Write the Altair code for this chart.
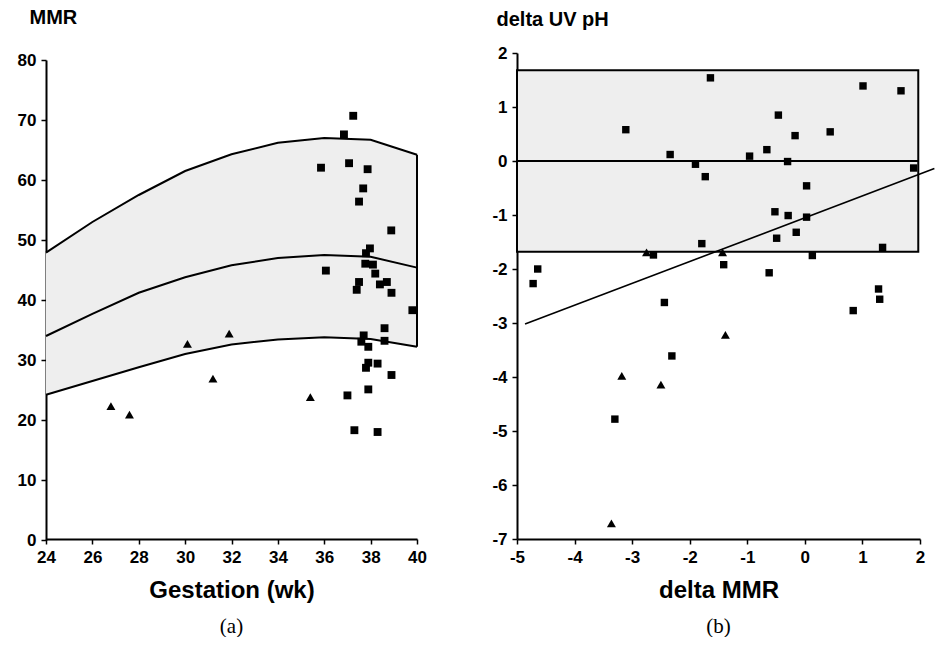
import altair as alt
import pandas as pd

# ---------- panel (a): MMR vs gestation ----------
gest_wk = [24, 26, 28, 30, 32, 34, 36, 38, 40]
mmr_upper = [47.9, 53.0, 57.5, 61.5, 64.3, 66.2, 67.0, 66.7, 64.2]
mmr_mid = [34.0, 37.7, 41.2, 43.8, 45.8, 47.0, 47.5, 47.2, 45.4]
mmr_lower = [24.2, 26.5, 28.8, 31.0, 32.6, 33.4, 33.8, 33.5, 32.2]

sq_gest = [37.25, 36.85, 35.86, 37.07, 37.87, 37.68, 37.5, 38.89, 37.97, 37.8,
           37.77, 38.1, 36.07, 38.2, 37.5, 37.4, 38.4, 38.7, 38.9, 39.8,
           38.6, 37.7, 37.6, 37.9, 38.6, 37.9, 37.8, 38.3, 38.9, 37.9,
           37.0, 37.3, 38.3]
sq_mmr = [70.7, 67.6, 62.05, 62.8, 61.8, 58.6, 56.4, 51.6, 48.6, 47.8,
          46.05, 45.9, 44.9, 44.4, 43.0, 41.7, 42.6, 43.0, 41.2, 38.3,
          35.3, 34.1, 33.05, 32.2, 33.2, 29.55, 28.7, 29.4, 27.5, 25.1,
          24.1, 18.3, 18.0]
tri_gest = [26.8, 27.6, 30.1, 31.2, 31.9, 35.4]
tri_mmr = [22.3, 20.9, 32.7, 26.9, 34.4, 23.8]

x_ticks_a = [24, 26, 28, 30, 32, 34, 36, 38, 40]
y_ticks_a = [0, 10, 20, 30, 40, 50, 60, 70, 80]

# ---------- panel (b): delta UV pH vs delta MMR ----------
sq_dmmr = [-3.11, -2.34, -1.90, -2.63, -4.64, -4.72, -1.64, 1.01, 1.67, -0.46,
           0.44, -0.17, -0.66, -0.96, -0.30, -1.73, 1.89, 0.03, -0.52, -0.29,
           0.03, -0.15, -0.49, -1.79, 1.35, -1.41, 0.13, 1.28, 1.30, 0.84,
           -0.62, -2.44, -2.31, -3.30]
sq_dph = [0.58, 0.12, -0.06, -1.74, -2.00, -2.27, 1.54, 1.39, 1.30, 0.85,
          0.54, 0.47, 0.21, 0.09, -0.01, -0.29, -0.13, -0.46, -0.94, -1.01,
          -1.04, -1.32, -1.43, -1.53, -1.60, -1.92, -1.75, -2.37, -2.56, -2.77,
          -2.07, -2.62, -3.61, -4.78]
tri_dmmr = [-2.75, -1.43, -3.18, -2.50, -1.38, -3.36]
tri_dph = [-1.69, -1.69, -3.98, -4.14, -3.22, -6.71]

band_b_x = [-5.0, 1.97]
band_b_lo, band_b_mid, band_b_hi = -1.68, 0.0, 1.68
reg_x = [-4.86, 2.25]
reg_y = [-3.02, -0.14]

x_ticks_b = [-5, -4, -3, -2, -1, 0, 1, 2]
y_ticks_b = [-7, -6, -5, -4, -3, -2, -1, 0, 1, 2]

FONT = "Liberation Sans"
FILL = "#eeeeee"
INK = "black"
PANEL_H = 486

# ---------- build panel (a) ----------
curves = pd.DataFrame({"g": gest_wk, "up": mmr_upper, "mid": mmr_mid, "lo": mmr_lower})
sq_a = pd.DataFrame({"g": sq_gest, "m": sq_mmr})
tri_a = pd.DataFrame({"g": tri_gest, "m": tri_mmr})
edge_a = pd.DataFrame({"g": [gest_wk[-1]], "lo": [mmr_lower[-1]], "up": [mmr_upper[-1]]})

xa = alt.X("g:Q", scale=alt.Scale(domain=[24, 40], nice=False, zero=False),
           axis=alt.Axis(values=x_ticks_a, title="Gestation (wk)", grid=False,
                         titleFontSize=24, titlePadding=13))
ya_axis = alt.Axis(values=y_ticks_a, title="MMR", grid=False, titleAngle=0,
                   titleAlign="left", titleBaseline="alphabetic",
                   titleX=-17, titleY=-30, titleFontSize=20)
ya_scale = alt.Scale(domain=[0, 80], nice=False, range=[PANEL_H + 1, 7])

band_a = alt.Chart(curves).mark_area(color=FILL).encode(
    x=xa, y=alt.Y("lo:Q", scale=ya_scale, axis=ya_axis), y2="up:Q")
line_up = alt.Chart(curves).mark_line(color=INK, strokeWidth=2).encode(x="g:Q", y="up:Q")
line_mid = alt.Chart(curves).mark_line(color=INK, strokeWidth=2).encode(x="g:Q", y="mid:Q")
line_lo = alt.Chart(curves).mark_line(color=INK, strokeWidth=2).encode(x="g:Q", y="lo:Q")
edge = alt.Chart(edge_a).mark_rule(color=INK, strokeWidth=2).encode(x="g:Q", y="lo:Q", y2="up:Q")
pts_sq_a = alt.Chart(sq_a).mark_point(shape="square", filled=True, color=INK, size=62, opacity=1).encode(
    x="g:Q", y=alt.Y("m:Q"))
pts_tri_a = alt.Chart(tri_a).mark_point(shape="triangle-up", filled=True, color=INK, size=80, opacity=1).encode(
    x="g:Q", y=alt.Y("m:Q"))

panel_a = alt.layer(band_a, line_up, line_mid, line_lo, edge, pts_sq_a, pts_tri_a).properties(
    width=371, height=PANEL_H,
    title=alt.TitleParams("(a)", orient="bottom", font="Liberation Serif", fontSize=21,
                          fontWeight="normal", offset=14))

# ---------- build panel (b) ----------
sq_b = pd.DataFrame({"x": sq_dmmr, "y": sq_dph})
tri_b = pd.DataFrame({"x": tri_dmmr, "y": tri_dph})
band_b = pd.DataFrame({"x": [band_b_x[0]], "x2": [band_b_x[1]], "lo": [band_b_lo],
                       "mid": [band_b_mid], "hi": [band_b_hi]})
reg = pd.DataFrame({"x": reg_x, "y": reg_y})

xb = alt.X("x:Q", scale=alt.Scale(domain=[-5, 2], nice=False, zero=False),
           axis=alt.Axis(values=x_ticks_b, title="delta MMR", grid=False,
                         labelExpr="toString(datum.value)",
                         titleFontSize=24, titlePadding=13))
yb_axis = alt.Axis(values=y_ticks_b, title="delta UV pH", grid=False, titleAngle=0,
                   titleAlign="left", titleBaseline="alphabetic",
                   titleX=-21, titleY=-28, titleFontSize=20,
                   labelExpr="toString(datum.value)")
yb_scale = alt.Scale(domain=[-7, 2], nice=False, zero=False)

rect_b = alt.Chart(band_b).mark_rect(fill=FILL, stroke=INK, strokeWidth=2).encode(
    x=xb, x2="x2:Q", y=alt.Y("lo:Q", scale=yb_scale, axis=yb_axis), y2="hi:Q")
mid_b = alt.Chart(band_b).mark_rule(color=INK, strokeWidth=2).encode(x="x:Q", x2="x2:Q", y="mid:Q")
reg_line = alt.Chart(reg).mark_line(color=INK, strokeWidth=1.6).encode(x="x:Q", y="y:Q")
pts_sq_b = alt.Chart(sq_b).mark_point(shape="square", filled=True, color=INK, size=55, opacity=1).encode(
    x="x:Q", y="y:Q")
pts_tri_b = alt.Chart(tri_b).mark_point(shape="triangle-up", filled=True, color=INK, size=80, opacity=1).encode(
    x="x:Q", y="y:Q")

panel_b = alt.layer(rect_b, mid_b, reg_line, pts_sq_b, pts_tri_b).properties(
    width=403, height=PANEL_H,
    title=alt.TitleParams("(b)", orient="bottom", font="Liberation Serif", fontSize=21,
                          fontWeight="normal", offset=14))

chart = alt.hconcat(panel_a, panel_b, spacing=64).properties(
    padding={"left": 17, "top": 7, "right": 0, "bottom": 0},
    background="white"
).configure_view(stroke=None).configure_axis(
    domainColor=INK, domainWidth=2, tickColor=INK, tickWidth=1.5, tickSize=5,
    labelFont=FONT, labelFontWeight="bold", labelFontSize=17, labelColor=INK,
    labelPadding=5, titleFont=FONT, titleFontWeight="bold", titleColor=INK,
    labelFlush=False
)

chart.save("out.html", embed_options={"renderer": "svg", "actions": False})
